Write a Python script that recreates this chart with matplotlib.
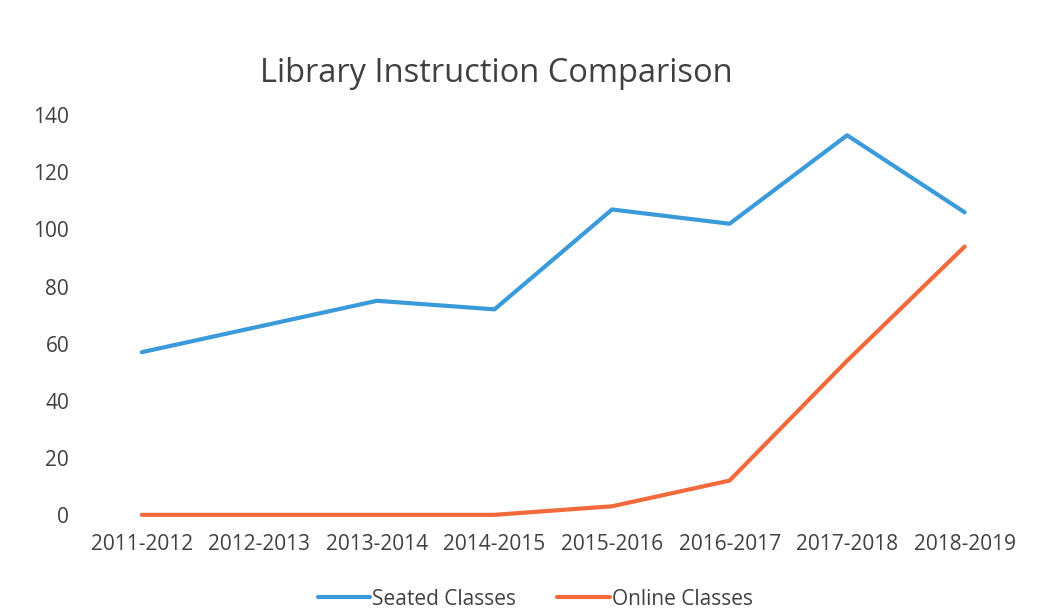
import matplotlib.pyplot as plt
from matplotlib import font_manager

# Data
years = ["2011-2012", "2012-2013", "2013-2014", "2014-2015",
         "2015-2016", "2016-2017", "2017-2018", "2018-2019"]
seated = [57, 66, 75, 72, 107, 102, 133, 106]
online = [0, 0, 0, 0, 3, 12, 54, 94]

names = {f.name for f in font_manager.fontManager.ttflist}
family = "Liberation Sans Narrow" if "Liberation Sans Narrow" in names else "Open Sans"
plt.rcParams["font.family"] = [family, "DejaVu Sans"]

fig = plt.figure(figsize=(10.39, 6.10), dpi=100)
ax = fig.add_axes([0.080, 0.156, 0.905, 0.655])

x = range(len(years))
ax.plot(x, seated, color="#3b9ad9", lw=3, label="Seated Classes",
        solid_capstyle="round", clip_on=False)
ax.plot(x, online, color="#f26a3b", lw=3, label="Online Classes",
        solid_capstyle="round", clip_on=False)

ax.set_xlim(-0.5, len(years) - 0.5)
ax.set_ylim(0, 140)
ax.set_yticks(range(0, 141, 20))
ax.set_xticks(list(x))
ax.set_xticklabels(years, fontsize=15.5)
for s in ax.spines.values():
    s.set_visible(False)
ax.tick_params(length=0, labelsize=15, colors="#404040", pad=14)
ax.tick_params(axis="y", pad=10)

fig.text(0.478, 0.88, "Library Instruction Comparison", ha="center", va="center",
         fontsize=23.5, color="#404040")

fig.legend(loc="center", bbox_to_anchor=(0.515, 0.018), ncol=2, frameon=False,
           fontsize=15, labelcolor="#404040", handlelength=2.5, handletextpad=0.1,
           columnspacing=2.0)

fig.savefig("out.png", dpi=100)
